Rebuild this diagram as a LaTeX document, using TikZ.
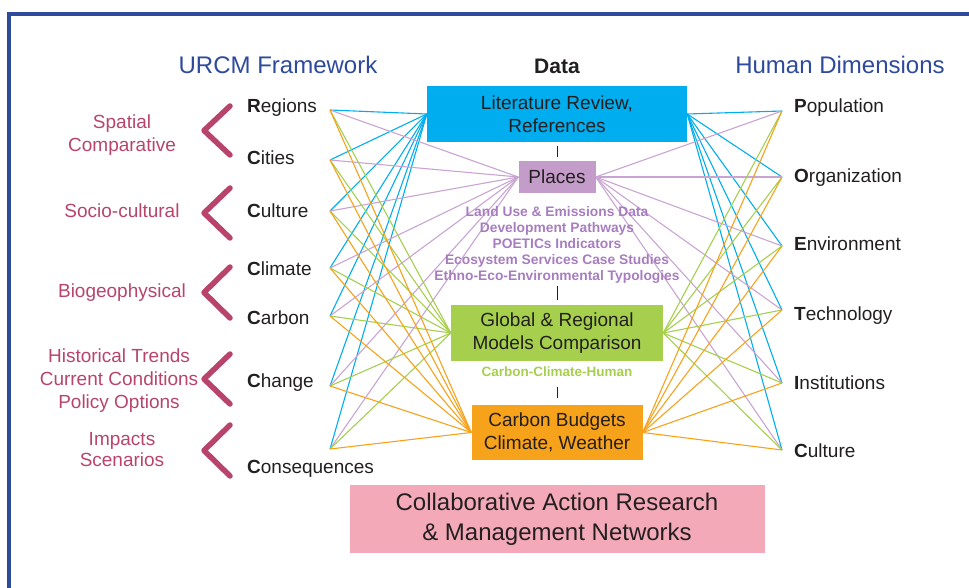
\documentclass[tikz,border=0pt]{standalone}
\usepackage{fontspec}
\setmainfont{Liberation Sans}
\usetikzlibrary{positioning,backgrounds}

\definecolor{framecol}{HTML}{2D4A9C}
\definecolor{txtdark}{HTML}{231F20}
\definecolor{chevcol}{HTML}{B8446B}
\definecolor{litcol}{HTML}{00AEEF}
\definecolor{placecol}{HTML}{C49CC9}
\definecolor{placeline}{HTML}{C9A4D3}
\definecolor{placetxt}{HTML}{A77DBF}
\definecolor{modelcol}{HTML}{A5CF4C}
\definecolor{budgetcol}{HTML}{F7A21B}
\definecolor{netcol}{HTML}{F4A9B8}

\tikzset{
  box/.style={inner sep=0pt, align=center, text=txtdark, font=\fontsize{19}{23}\selectfont},
  item/.style={anchor=base west, inner sep=0pt, text=txtdark, font=\fontsize{19}{23}\selectfont},
  group/.style={inner sep=0pt, align=center, text=chevcol, font=\fontsize{19}{23}\selectfont},
  head/.style={anchor=base, inner sep=0pt, text=framecol, font=\fontsize{24}{28}\selectfont},
  small/.style={inner sep=0pt, align=center, font=\fontsize{13.8}{16}\selectfont\bfseries},
  chevron/.style={chevcol, line width=5.5pt, line cap=round, line join=round},
  link/.style={line width=1.1pt},
  tick/.style={txtdark, line width=1pt}
}

\begin{document}
\begin{tikzpicture}[x=1pt,y=-1pt]
\useasboundingbox (0,0) rectangle (969,588);

%outer frame
    \draw[framecol, line width=4.5pt] (9,588) -- (9,14) -- (969,14);

%headings
    \node[head] (urcm) at (278,74) {URCM Framework};
    \node[head] (human) at (840,74) {Human Dimensions};

%data boxes down the middle
    \node[box, fill=litcol, minimum width=260pt, minimum height=56pt] (lit) at (557,114) {Literature Review,\\References};
    \node[box, fill=placecol, minimum width=77pt, minimum height=32pt] (places) at (557,177) {Places};
    \node[box, fill=modelcol, minimum width=212pt, minimum height=56pt] (models) at (557,333) {Global \& Regional\\Models Comparison};
    \node[box, fill=budgetcol, minimum width=171pt, minimum height=55pt] (budget) at (557,432.5) {Carbon Budgets\\Climate, Weather};
    \node[box, fill=netcol, minimum width=415pt, minimum height=68pt, font=\fontsize{24}{30}\selectfont] (network) at (557,519) {Collaborative Action Research\\\& Management Networks};

    \node[inner sep=0pt, font=\fontsize{21}{24}\selectfont\bfseries, text=txtdark, above=12pt of lit] (data) {Data};
    \node[small, text=placetxt, below=13.5pt of places] (typologies) {Land Use \& Emissions Data\\Development Pathways\\POETICs Indicators\\Ecosystem Services Case Studies\\Ethno-Eco-Environmental Typologies};
    \node[small, text=modelcol, font=\fontsize{13.5}{16}\selectfont\bfseries, below=5pt of models] (cch) {Carbon-Climate-Human};

%short ticks between the boxes
    \draw[tick, shorten <=4pt, shorten >=4pt] (lit.south) -- (places.north);
    \draw[tick, shorten <=2pt, shorten >=5pt] (typologies.south) -- (models.north);
    \draw[tick, shorten <=10pt, shorten >=7pt] (cch.south) -- (budget.north);

%URCM items on the left
    \node[item] (regions) at (247,113) {\textbf{R}egions};
    \node[item] (cities) at (247,165) {\textbf{C}ities};
    \node[item] (culture) at (247,218) {\textbf{C}ulture};
    \node[item] (climate) at (247,275) {\textbf{C}limate};
    \node[item] (carbon) at (247,324) {\textbf{C}arbon};
    \node[item] (change) at (247,387) {\textbf{C}hange};
    \node[item] (conseq) at (247,473) {\textbf{C}onsequences};

%POETIC items on the right
    \node[item] (population) at (794,113) {\textbf{P}opulation};
    \node[item] (organization) at (794,183) {\textbf{O}rganization};
    \node[item] (environment) at (794,251) {\textbf{E}nvironment};
    \node[item] (technology) at (794,320) {\textbf{T}echnology};
    \node[item] (institutions) at (794,389) {\textbf{I}nstitutions};
    \node[item] (hculture) at (794,457) {\textbf{C}ulture};

%groups and chevrons
    \node[group] (spatial) at (122,135) {Spatial\\Comparative};
    \node[group] (socio) at (122,211) {Socio-cultural};
    \node[group] (bio) at (122,293) {Biogeophysical};
    \node[group] (history) at (119,381) {Historical Trends\\Current Conditions\\Policy Options};
    \node[group, font=\fontsize{19}{21}\selectfont] (impacts) at (122,450) {Impacts\\Scenarios};

    \foreach \t/\b in {106/155,188/238,267/318,354/404,425/476}
    \draw[chevron] (230,\t) -- (204,{(\t+\b)/2}) -- (230,\b);

%line ends
    \foreach \n/\y in {reg/110,cit/160,cul/211,cli/268,car/316,chg/386,con/449}
    \coordinate (L\n) at (330,\y);
    \foreach \n/\y in {pop/111,org/177,env/246,tec/310,ins/383,cul/450}
    \coordinate (R\n) at (782,\y);

%fan of lines from every item to every box
    \begin{scope}[on background layer]
    \foreach \b/\c in {lit/litcol,places/placeline,models/modelcol,budget/budgetcol} {
        \foreach \n in {reg,cit,cul,cli,car,chg,con}
        \draw[link, draw=\c] (L\n) -- (\b.west);
        \foreach \n in {pop,org,env,tec,ins,cul}
        \draw[link, draw=\c] (R\n) -- (\b.east);
    }
    \end{scope}

\end{tikzpicture}
\end{document}
